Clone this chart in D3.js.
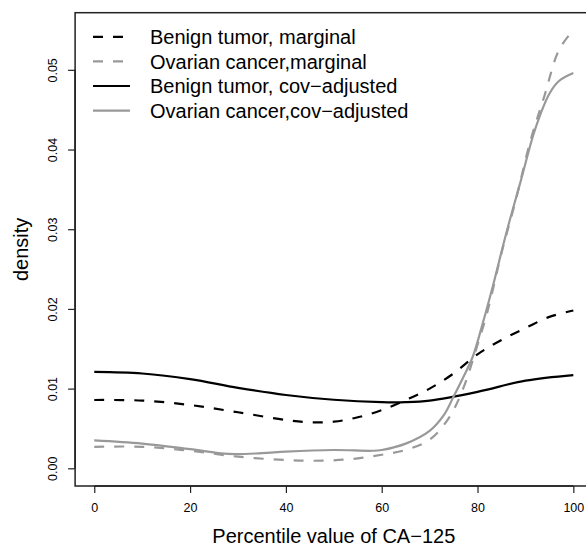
<!DOCTYPE html>
<html>
<head>
<meta charset="utf-8">
<script src="https://cdn.jsdelivr.net/npm/d3@7"></script>
<style>
body { margin: 0; background: #fff; }
text { font-family: "Liberation Sans", Arial, sans-serif; fill: #000; }
</style>
</head>
<body>
<div class="chart"></div>
<script>
// percentile grid + density values
var benignMargX = [0, 10, 20, 30, 40, 45, 50, 55, 60, 65, 70, 75, 80, 85, 90, 95, 100]
var benignMargY = [0.00857, 0.0085, 0.00794, 0.00703, 0.00606, 0.00577, 0.00585, 0.0064, 0.0073, 0.00857, 0.0100, 0.0119, 0.0143, 0.0161, 0.0176, 0.0190, 0.0198]

var ovarMargX = [0, 10, 20, 30, 40, 45, 50, 55, 60, 65, 70, 74, 77, 80, 82, 85, 88, 91, 94, 97, 100]
var ovarMargY = [0.0027, 0.0027, 0.0022, 0.00146, 0.00104, 0.00095, 0.0010, 0.00125, 0.0017, 0.0023, 0.0036, 0.0063, 0.0100, 0.0155, 0.0195, 0.0270, 0.0337, 0.0410, 0.0468, 0.0525, 0.0550]

var benignAdjX = [0, 10, 20, 30, 40, 50, 60, 65, 70, 80, 90, 100]
var benignAdjY = [0.0121, 0.0119, 0.0112, 0.0101, 0.0092, 0.0086, 0.0083, 0.0083, 0.0085, 0.0096, 0.0110, 0.0117]

var ovarAdjX = [0, 10, 20, 28, 35, 40, 50, 58, 60, 65, 70, 73, 75, 77, 79, 81, 83, 86, 89, 92, 95, 97, 100]
var ovarAdjY = [0.0035, 0.0031, 0.0024, 0.0018, 0.0019, 0.0021, 0.0023, 0.0022, 0.0023, 0.0031, 0.0047, 0.0067, 0.0090, 0.0114, 0.0140, 0.0180, 0.0224, 0.0295, 0.0360, 0.0425, 0.0470, 0.0486, 0.0496]

var seriesNames = ["Benign tumor, marginal", "Ovarian cancer,marginal", "Benign tumor, cov\u2212adjusted", "Ovarian cancer,cov\u2212adjusted"]
var xTicks = [0, 20, 40, 60, 80, 100]
var yTicks = [0, 0.01, 0.02, 0.03, 0.04, 0.05]

var width = 586, height = 549
var svg = d3.select(".chart").append("svg").attr("width", width).attr("height", height)

var x = d3.scaleLinear().domain([-4, 104]).range([75.1, 592.5])
var y = d3.scaleLinear().domain([-0.00222, 0.05717]).range([486, 12.7])

var series = [
    {xs: benignMargX, ys: benignMargY, color: "#000", dash: "10,10"},
    {xs: ovarMargX, ys: ovarMargY, color: "#999", dash: "10,10"},
    {xs: benignAdjX, ys: benignAdjY, color: "#000", dash: null},
    {xs: ovarAdjX, ys: ovarAdjY, color: "#999", dash: null}
]

svg.append("clipPath").attr("id", "plotclip").append("rect")
    .attr("x", x(-4)).attr("y", y(0.05717))
    .attr("width", x(104) - x(-4)).attr("height", y(-0.00222) - y(0.05717))

var line = d3.line().x(function(d){ return x(d[0]) }).y(function(d){ return y(d[1]) })
    .curve(d3.curveCatmullRom.alpha(0.5))

svg.append("g").attr("clip-path", "url(#plotclip)").selectAll("path").data(series)
    .enter().append("path")
    .attr("d", function(s){
        return line(s.xs.map(function(v, i){ return [v, s.ys[i]] }))
    })
    .attr("fill", "none").attr("stroke", function(s){ return s.color })
    .attr("stroke-width", 2.2)
    .attr("stroke-dasharray", function(s){ return s.dash })

// box
svg.append("rect").attr("x", x(-4)).attr("y", y(0.05717))
    .attr("width", x(104) - x(-4)).attr("height", y(-0.00222) - y(0.05717))
    .attr("fill", "none").attr("stroke", "#222").attr("stroke-width", 1.5)

// axes
var xAxis = d3.axisBottom(x).tickValues(xTicks).tickSize(7).tickPadding(10)
    .tickFormat(d3.format("d"))
var gx = svg.append("g").attr("transform", "translate(0," + y(-0.00222) + ")").call(xAxis)
gx.select(".domain").attr("d", "M" + x(0) + ",0H" + x(100)).attr("stroke", "#222").attr("stroke-width", 1.5)
gx.selectAll(".tick line").attr("stroke", "#222").attr("stroke-width", 1.2)
gx.selectAll(".tick text").attr("font-size", "12.5px").attr("font-family", "Liberation Sans, Arial, sans-serif")

var yAxis = d3.axisLeft(y).tickValues(yTicks).tickSize(7).tickFormat(d3.format(".2f"))
var gy = svg.append("g").attr("transform", "translate(" + x(-4) + ",0)").call(yAxis)
gy.select(".domain").attr("d", "M0," + y(0) + "V" + y(0.05)).attr("stroke", "#222").attr("stroke-width", 1.5)
gy.selectAll(".tick line").attr("stroke", "#222").attr("stroke-width", 1.2)
gy.selectAll(".tick text").attr("font-size", "12.5px").attr("font-family", "Liberation Sans, Arial, sans-serif")
    .attr("x", null).attr("dy", null)
    .attr("text-anchor", "middle")
    .attr("transform", "translate(" + (57 - x(-4)) + ",0) rotate(-90)")
    .attr("y", 0)

// axis titles
svg.append("text").attr("x", (x(-4) + x(104)) / 2).attr("y", 543)
    .attr("text-anchor", "middle").attr("font-size", "20px")
    .text("Percentile value of CA\u2212125")
svg.append("text").attr("transform", "translate(28," + ((y(-0.00222) + y(0.05717)) / 2) + ") rotate(-90)")
    .attr("text-anchor", "middle").attr("font-size", "20px")
    .text("density")

// legend
var legend = svg.append("g").selectAll("g").data(series).enter().append("g")
    .attr("transform", function(d, i){ return "translate(0," + (36.8 + i * 24.6) + ")" })
legend.append("line").attr("x1", 93).attr("x2", 130).attr("y1", 0).attr("y2", 0)
    .attr("stroke", function(s){ return s.color }).attr("stroke-width", 2.2)
    .attr("stroke-dasharray", function(s){ return s.dash })
legend.append("text").attr("x", 150).attr("y", 7.4).attr("font-size", "20px")
    .text(function(d, i){ return seriesNames[i] })
</script>
</body>
</html>
